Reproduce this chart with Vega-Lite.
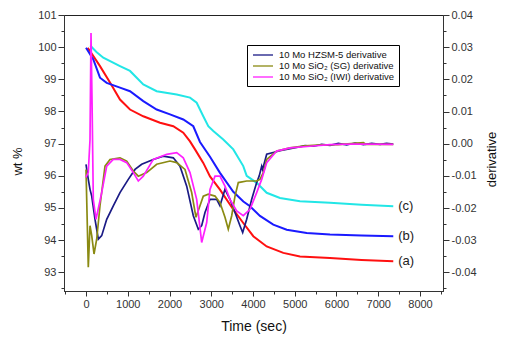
{
  "$schema": "https://vega.github.io/schema/vega-lite/v6.json",
  "width": 379,
  "height": 276,
  "autosize": {"type": "none"},
  "padding": {"left": 64, "top": 15, "right": 63, "bottom": 46},
  "background": "white",
  "config": {
    "view": {"stroke": "#222", "strokeWidth": 1},
    "axis": {
      "labelFont": "Liberation Sans",
      "titleFont": "Liberation Sans",
      "labelFontSize": 11,
      "labelColor": "#333",
      "domainColor": "#333",
      "tickColor": "#333",
      "grid": false,
      "titleFontWeight": "normal",
      "titleColor": "#111",
      "labelOverlap": false,
      "labelFlush": false
    }
  },
  "datasets": {
    "tga": [
      {"t": 40, "wt": 99.98, "s": "a"}, {"t": 96, "wt": 99.88, "s": "a"}, {"t": 335, "wt": 99.41, "s": "a"}, {"t": 575, "wt": 98.9, "s": "a"}, {"t": 814, "wt": 98.37, "s": "a"}, {"t": 1054, "wt": 98.06, "s": "a"}, {"t": 1372, "wt": 97.85, "s": "a"}, {"t": 1773, "wt": 97.65, "s": "a"}, {"t": 2091, "wt": 97.54, "s": "a"}, {"t": 2330, "wt": 97.34, "s": "a"}, {"t": 2491, "wt": 97.07, "s": "a"}, {"t": 2611, "wt": 96.82, "s": "a"}, {"t": 2809, "wt": 96.4, "s": "a"}, {"t": 2970, "wt": 95.98, "s": "a"}, {"t": 3209, "wt": 95.57, "s": "a"}, {"t": 3528, "wt": 94.95, "s": "a"}, {"t": 3767, "wt": 94.53, "s": "a"}, {"t": 4007, "wt": 94.12, "s": "a"}, {"t": 4328, "wt": 93.8, "s": "a"}, {"t": 4726, "wt": 93.6, "s": "a"}, {"t": 5125, "wt": 93.49, "s": "a"}, {"t": 5844, "wt": 93.44, "s": "a"}, {"t": 6600, "wt": 93.38, "s": "a"}, {"t": 7360, "wt": 93.34, "s": "a"},
      {"t": 0, "wt": 99.98, "s": "b"}, {"t": 175, "wt": 99.62, "s": "b"}, {"t": 335, "wt": 99.05, "s": "b"}, {"t": 496, "wt": 98.89, "s": "b"}, {"t": 814, "wt": 98.74, "s": "b"}, {"t": 1054, "wt": 98.63, "s": "b"}, {"t": 1372, "wt": 98.32, "s": "b"}, {"t": 1693, "wt": 98.06, "s": "b"}, {"t": 2012, "wt": 97.91, "s": "b"}, {"t": 2330, "wt": 97.75, "s": "b"}, {"t": 2570, "wt": 97.54, "s": "b"}, {"t": 2730, "wt": 97.05, "s": "b"}, {"t": 2970, "wt": 96.59, "s": "b"}, {"t": 3209, "wt": 96.09, "s": "b"}, {"t": 3528, "wt": 95.5, "s": "b"}, {"t": 3769, "wt": 95.2, "s": "b"}, {"t": 3928, "wt": 95.05, "s": "b"}, {"t": 4167, "wt": 94.75, "s": "b"}, {"t": 4486, "wt": 94.48, "s": "b"}, {"t": 4807, "wt": 94.32, "s": "b"}, {"t": 5286, "wt": 94.22, "s": "b"}, {"t": 5844, "wt": 94.17, "s": "b"}, {"t": 6600, "wt": 94.14, "s": "b"}, {"t": 7360, "wt": 94.12, "s": "b"},
      {"t": 100, "wt": 100.05, "s": "c"}, {"t": 250, "wt": 99.85, "s": "c"}, {"t": 414, "wt": 99.67, "s": "c"}, {"t": 814, "wt": 99.41, "s": "c"}, {"t": 1054, "wt": 99.26, "s": "c"}, {"t": 1372, "wt": 98.84, "s": "c"}, {"t": 1693, "wt": 98.63, "s": "c"}, {"t": 2172, "wt": 98.53, "s": "c"}, {"t": 2491, "wt": 98.43, "s": "c"}, {"t": 2651, "wt": 98.27, "s": "c"}, {"t": 2809, "wt": 97.85, "s": "c"}, {"t": 2929, "wt": 97.54, "s": "c"}, {"t": 3049, "wt": 97.39, "s": "c"}, {"t": 3288, "wt": 97.13, "s": "c"}, {"t": 3528, "wt": 96.82, "s": "c"}, {"t": 3767, "wt": 96.3, "s": "c"}, {"t": 3849, "wt": 96.0, "s": "c"}, {"t": 4088, "wt": 95.78, "s": "c"}, {"t": 4328, "wt": 95.47, "s": "c"}, {"t": 4646, "wt": 95.31, "s": "c"}, {"t": 5125, "wt": 95.21, "s": "c"}, {"t": 5844, "wt": 95.16, "s": "c"}, {"t": 6600, "wt": 95.1, "s": "c"}, {"t": 7360, "wt": 95.05, "s": "c"}
    ],
    "labels": [
      {"t": 7360, "wt": 93.34, "label": "(a)"},
      {"t": 7360, "wt": 94.12, "label": "(b)"},
      {"t": 7360, "wt": 95.05, "label": "(c)"}
    ],
    "deriv": [
      {"t": 0, "d": -0.0064, "s": "10 Mo HZSM-5 derivative"}, {"t": 55, "d": -0.0111, "s": "10 Mo HZSM-5 derivative"}, {"t": 96, "d": -0.0142, "s": "10 Mo HZSM-5 derivative"}, {"t": 137, "d": -0.0163, "s": "10 Mo HZSM-5 derivative"}, {"t": 216, "d": -0.0235, "s": "10 Mo HZSM-5 derivative"}, {"t": 295, "d": -0.0297, "s": "10 Mo HZSM-5 derivative"}, {"t": 376, "d": -0.0286, "s": "10 Mo HZSM-5 derivative"}, {"t": 496, "d": -0.0235, "s": "10 Mo HZSM-5 derivative"}, {"t": 654, "d": -0.0193, "s": "10 Mo HZSM-5 derivative"}, {"t": 814, "d": -0.0152, "s": "10 Mo HZSM-5 derivative"}, {"t": 1013, "d": -0.0111, "s": "10 Mo HZSM-5 derivative"}, {"t": 1174, "d": -0.008, "s": "10 Mo HZSM-5 derivative"}, {"t": 1334, "d": -0.0064, "s": "10 Mo HZSM-5 derivative"}, {"t": 1612, "d": -0.0049, "s": "10 Mo HZSM-5 derivative"}, {"t": 1851, "d": -0.0039, "s": "10 Mo HZSM-5 derivative"}, {"t": 2091, "d": -0.0044, "s": "10 Mo HZSM-5 derivative"}, {"t": 2251, "d": -0.007, "s": "10 Mo HZSM-5 derivative"}, {"t": 2412, "d": -0.0132, "s": "10 Mo HZSM-5 derivative"}, {"t": 2570, "d": -0.0224, "s": "10 Mo HZSM-5 derivative"}, {"t": 2690, "d": -0.0266, "s": "10 Mo HZSM-5 derivative"}, {"t": 2771, "d": -0.0255, "s": "10 Mo HZSM-5 derivative"}, {"t": 2850, "d": -0.0214, "s": "10 Mo HZSM-5 derivative"}, {"t": 2970, "d": -0.0173, "s": "10 Mo HZSM-5 derivative"}, {"t": 3130, "d": -0.0173, "s": "10 Mo HZSM-5 derivative"}, {"t": 3209, "d": -0.0193, "s": "10 Mo HZSM-5 derivative"}, {"t": 3329, "d": -0.0142, "s": "10 Mo HZSM-5 derivative"}, {"t": 3449, "d": -0.0173, "s": "10 Mo HZSM-5 derivative"}, {"t": 3569, "d": -0.0214, "s": "10 Mo HZSM-5 derivative"}, {"t": 3688, "d": -0.0255, "s": "10 Mo HZSM-5 derivative"}, {"t": 3753, "d": -0.0276, "s": "10 Mo HZSM-5 derivative"}, {"t": 3849, "d": -0.0235, "s": "10 Mo HZSM-5 derivative"}, {"t": 3969, "d": -0.0173, "s": "10 Mo HZSM-5 derivative"}, {"t": 4088, "d": -0.0121, "s": "10 Mo HZSM-5 derivative"}, {"t": 4150, "d": -0.01, "s": "10 Mo HZSM-5 derivative"}, {"t": 4208, "d": -0.007, "s": "10 Mo HZSM-5 derivative"}, {"t": 4230, "d": -0.008, "s": "10 Mo HZSM-5 derivative"}, {"t": 4328, "d": -0.0033, "s": "10 Mo HZSM-5 derivative"}, {"t": 4646, "d": -0.0022, "s": "10 Mo HZSM-5 derivative"}, {"t": 5045, "d": -0.0012, "s": "10 Mo HZSM-5 derivative"}, {"t": 5245, "d": -0.0006, "s": "10 Mo HZSM-5 derivative"}, {"t": 5445, "d": -0.0008, "s": "10 Mo HZSM-5 derivative"}, {"t": 5645, "d": -0.0002, "s": "10 Mo HZSM-5 derivative"}, {"t": 5844, "d": -0.0005, "s": "10 Mo HZSM-5 derivative"}, {"t": 6044, "d": 0.0001, "s": "10 Mo HZSM-5 derivative"}, {"t": 6244, "d": -0.0004, "s": "10 Mo HZSM-5 derivative"}, {"t": 6444, "d": 0.0002, "s": "10 Mo HZSM-5 derivative"}, {"t": 6644, "d": -0.0003, "s": "10 Mo HZSM-5 derivative"}, {"t": 6844, "d": 0.0001, "s": "10 Mo HZSM-5 derivative"}, {"t": 7044, "d": -0.0002, "s": "10 Mo HZSM-5 derivative"}, {"t": 7200, "d": 0.0001, "s": "10 Mo HZSM-5 derivative"}, {"t": 7360, "d": -0.0001, "s": "10 Mo HZSM-5 derivative"},
      {"t": 0, "d": -0.008, "s": "10 Mo SiO₂ (SG) derivative"}, {"t": 55, "d": -0.0384, "s": "10 Mo SiO₂ (SG) derivative"}, {"t": 96, "d": -0.0255, "s": "10 Mo SiO₂ (SG) derivative"}, {"t": 137, "d": -0.0286, "s": "10 Mo SiO₂ (SG) derivative"}, {"t": 192, "d": -0.0343, "s": "10 Mo SiO₂ (SG) derivative"}, {"t": 256, "d": -0.0297, "s": "10 Mo SiO₂ (SG) derivative"}, {"t": 335, "d": -0.0193, "s": "10 Mo SiO₂ (SG) derivative"}, {"t": 455, "d": -0.007, "s": "10 Mo SiO₂ (SG) derivative"}, {"t": 575, "d": -0.0049, "s": "10 Mo SiO₂ (SG) derivative"}, {"t": 814, "d": -0.0044, "s": "10 Mo SiO₂ (SG) derivative"}, {"t": 975, "d": -0.0054, "s": "10 Mo SiO₂ (SG) derivative"}, {"t": 1133, "d": -0.0085, "s": "10 Mo SiO₂ (SG) derivative"}, {"t": 1253, "d": -0.0101, "s": "10 Mo SiO₂ (SG) derivative"}, {"t": 1454, "d": -0.009, "s": "10 Mo SiO₂ (SG) derivative"}, {"t": 1693, "d": -0.0064, "s": "10 Mo SiO₂ (SG) derivative"}, {"t": 2012, "d": -0.0054, "s": "10 Mo SiO₂ (SG) derivative"}, {"t": 2172, "d": -0.0059, "s": "10 Mo SiO₂ (SG) derivative"}, {"t": 2371, "d": -0.008, "s": "10 Mo SiO₂ (SG) derivative"}, {"t": 2531, "d": -0.0152, "s": "10 Mo SiO₂ (SG) derivative"}, {"t": 2634, "d": -0.0229, "s": "10 Mo SiO₂ (SG) derivative"}, {"t": 2730, "d": -0.0193, "s": "10 Mo SiO₂ (SG) derivative"}, {"t": 2809, "d": -0.0163, "s": "10 Mo SiO₂ (SG) derivative"}, {"t": 2929, "d": -0.0157, "s": "10 Mo SiO₂ (SG) derivative"}, {"t": 3090, "d": -0.0163, "s": "10 Mo SiO₂ (SG) derivative"}, {"t": 3209, "d": -0.0183, "s": "10 Mo SiO₂ (SG) derivative"}, {"t": 3329, "d": -0.0229, "s": "10 Mo SiO₂ (SG) derivative"}, {"t": 3408, "d": -0.0266, "s": "10 Mo SiO₂ (SG) derivative"}, {"t": 3490, "d": -0.0224, "s": "10 Mo SiO₂ (SG) derivative"}, {"t": 3569, "d": -0.0163, "s": "10 Mo SiO₂ (SG) derivative"}, {"t": 3648, "d": -0.0121, "s": "10 Mo SiO₂ (SG) derivative"}, {"t": 3849, "d": -0.0116, "s": "10 Mo SiO₂ (SG) derivative"}, {"t": 4088, "d": -0.0116, "s": "10 Mo SiO₂ (SG) derivative"}, {"t": 4167, "d": -0.0111, "s": "10 Mo SiO₂ (SG) derivative"}, {"t": 4247, "d": -0.009, "s": "10 Mo SiO₂ (SG) derivative"}, {"t": 4328, "d": -0.0049, "s": "10 Mo SiO₂ (SG) derivative"}, {"t": 4567, "d": -0.0023, "s": "10 Mo SiO₂ (SG) derivative"}, {"t": 4886, "d": -0.0013, "s": "10 Mo SiO₂ (SG) derivative"}, {"t": 5245, "d": -0.0007, "s": "10 Mo SiO₂ (SG) derivative"}, {"t": 5644, "d": -0.0004, "s": "10 Mo SiO₂ (SG) derivative"}, {"t": 6044, "d": -0.0003, "s": "10 Mo SiO₂ (SG) derivative"}, {"t": 6644, "d": 0.0003, "s": "10 Mo SiO₂ (SG) derivative"}, {"t": 6700, "d": -0.0002, "s": "10 Mo SiO₂ (SG) derivative"}, {"t": 7360, "d": -0.0002, "s": "10 Mo SiO₂ (SG) derivative"},
      {"t": 0, "d": -0.0105, "s": "10 Mo SiO₂ (IWI) derivative"}, {"t": 55, "d": -0.0089, "s": "10 Mo SiO₂ (IWI) derivative"}, {"t": 96, "d": 0.0013, "s": "10 Mo SiO₂ (IWI) derivative"}, {"t": 120, "d": 0.0344, "s": "10 Mo SiO₂ (IWI) derivative"}, {"t": 144, "d": 0.0137, "s": "10 Mo SiO₂ (IWI) derivative"}, {"t": 175, "d": -0.0173, "s": "10 Mo SiO₂ (IWI) derivative"}, {"t": 240, "d": -0.0235, "s": "10 Mo SiO₂ (IWI) derivative"}, {"t": 376, "d": -0.0152, "s": "10 Mo SiO₂ (IWI) derivative"}, {"t": 496, "d": -0.007, "s": "10 Mo SiO₂ (IWI) derivative"}, {"t": 654, "d": -0.0049, "s": "10 Mo SiO₂ (IWI) derivative"}, {"t": 814, "d": -0.0049, "s": "10 Mo SiO₂ (IWI) derivative"}, {"t": 975, "d": -0.0059, "s": "10 Mo SiO₂ (IWI) derivative"}, {"t": 1133, "d": -0.009, "s": "10 Mo SiO₂ (IWI) derivative"}, {"t": 1253, "d": -0.0116, "s": "10 Mo SiO₂ (IWI) derivative"}, {"t": 1372, "d": -0.0101, "s": "10 Mo SiO₂ (IWI) derivative"}, {"t": 1612, "d": -0.0049, "s": "10 Mo SiO₂ (IWI) derivative"}, {"t": 1933, "d": -0.0033, "s": "10 Mo SiO₂ (IWI) derivative"}, {"t": 2172, "d": -0.0028, "s": "10 Mo SiO₂ (IWI) derivative"}, {"t": 2330, "d": -0.0044, "s": "10 Mo SiO₂ (IWI) derivative"}, {"t": 2491, "d": -0.009, "s": "10 Mo SiO₂ (IWI) derivative"}, {"t": 2651, "d": -0.0173, "s": "10 Mo SiO₂ (IWI) derivative"}, {"t": 2771, "d": -0.0307, "s": "10 Mo SiO₂ (IWI) derivative"}, {"t": 2891, "d": -0.0245, "s": "10 Mo SiO₂ (IWI) derivative"}, {"t": 2970, "d": -0.0142, "s": "10 Mo SiO₂ (IWI) derivative"}, {"t": 3090, "d": -0.0101, "s": "10 Mo SiO₂ (IWI) derivative"}, {"t": 3209, "d": -0.0101, "s": "10 Mo SiO₂ (IWI) derivative"}, {"t": 3329, "d": -0.0132, "s": "10 Mo SiO₂ (IWI) derivative"}, {"t": 3449, "d": -0.0173, "s": "10 Mo SiO₂ (IWI) derivative"}, {"t": 3609, "d": -0.0209, "s": "10 Mo SiO₂ (IWI) derivative"}, {"t": 3767, "d": -0.0224, "s": "10 Mo SiO₂ (IWI) derivative"}, {"t": 3928, "d": -0.0204, "s": "10 Mo SiO₂ (IWI) derivative"}, {"t": 4088, "d": -0.0152, "s": "10 Mo SiO₂ (IWI) derivative"}, {"t": 4208, "d": -0.0111, "s": "10 Mo SiO₂ (IWI) derivative"}, {"t": 4328, "d": -0.0059, "s": "10 Mo SiO₂ (IWI) derivative"}, {"t": 4567, "d": -0.0023, "s": "10 Mo SiO₂ (IWI) derivative"}, {"t": 4886, "d": -0.0013, "s": "10 Mo SiO₂ (IWI) derivative"}, {"t": 5365, "d": -0.0008, "s": "10 Mo SiO₂ (IWI) derivative"}, {"t": 5844, "d": -0.0003, "s": "10 Mo SiO₂ (IWI) derivative"}, {"t": 6400, "d": -0.0001, "s": "10 Mo SiO₂ (IWI) derivative"}, {"t": 7360, "d": -0.0002, "s": "10 Mo SiO₂ (IWI) derivative"}
    ]
  },
  "encoding": {
    "x": {
      "field": "t",
      "type": "quantitative",
      "scale": {"domain": [-527, 8551], "nice": false, "zero": false},
      "axis": {
        "title": "Time (sec)",
        "titleFontSize": 14,
        "titleY": 35,
        "titleBaseline": "middle",
        "values": [-500, 0, 500, 1000, 1500, 2000, 2500, 3000, 3500, 4000, 4500, 5000, 5500, 6000, 6500, 7000, 7500, 8000, 8500],
        "labelExpr": "datum.value % 1000 === 0 ? '' + datum.value : ''",
        "tickSize": {"condition": {"test": "datum.value % 1000 === 0", "value": 5}, "value": 3},
        "labelPadding": 2
      }
    }
  },
  "layer": [
    {
      "encoding": {
        "y": {
          "field": "wt",
          "type": "quantitative",
          "scale": {"domain": [92.415, 101], "nice": false, "zero": false},
          "axis": {
            "orient": "left",
            "title": "wt %",
            "titleFontSize": 13,
            "titleAngle": 270,
            "titleX": -47,
            "titleY": 146,
            "titleAlign": "center",
            "titleBaseline": "middle",
            "values": [92.5, 93, 93.5, 94, 94.5, 95, 95.5, 96, 96.5, 97, 97.5, 98, 98.5, 99, 99.5, 100, 100.5, 101],
            "labelExpr": "round(datum.value * 2) % 2 === 0 ? '' + round(datum.value) : ''",
            "tickSize": {"condition": {"test": "round(datum.value * 2) % 2 === 0", "value": 6}, "value": 3},
            "labelPadding": 2
          }
        }
      },
      "layer": [
        {
          "data": {"name": "tga"},
          "mark": {"type": "line", "strokeWidth": 2},
          "encoding": {
            "color": {
              "field": "s",
              "type": "nominal",
              "scale": {"domain": ["a", "b", "c"], "range": ["#ff1010", "#1a1aff", "#22e6e6"]},
              "legend": null
            }
          }
        },
        {
          "data": {"name": "labels"},
          "mark": {"type": "text", "align": "left", "baseline": "middle", "dx": 5, "fontSize": 13, "font": "Liberation Sans", "color": "#222"},
          "encoding": {"text": {"field": "label"}}
        }
      ]
    },
    {
      "data": {"name": "deriv"},
      "mark": {"type": "line", "strokeWidth": 1.7},
      "encoding": {
        "y": {
          "field": "d",
          "type": "quantitative",
          "scale": {"domain": [-0.0458, 0.04], "nice": false, "zero": false},
          "axis": {
            "orient": "right",
            "title": "derivative",
            "titleFontSize": 13,
            "titleAngle": 270,
            "titleX": 48,
            "titleY": 144,
            "titleAlign": "center",
            "titleBaseline": "middle",
            "values": [-0.045, -0.04, -0.035, -0.03, -0.025, -0.02, -0.015, -0.01, -0.005, 0, 0.005, 0.01, 0.015, 0.02, 0.025, 0.03, 0.035, 0.04],
            "labelExpr": "abs(round(datum.value*1000)) % 10 === 0 ? replace(format(datum.value, '.2f'), '\u2212', '-') : ''",
            "tickSize": {"condition": {"test": "abs(round(datum.value*1000)) % 10 === 0", "value": 6}, "value": 3},
            "labelPadding": 2
          }
        },
        "color": {
          "field": "s",
          "type": "nominal",
          "sort": null,
          "scale": {
            "domain": ["10 Mo HZSM-5 derivative", "10 Mo SiO₂ (SG) derivative", "10 Mo SiO₂ (IWI) derivative"],
            "range": ["#1a1a85", "#8a8a12", "#ff20ff"]
          },
          "legend": {
            "orient": "none",
            "legendX": 183,
            "legendY": 30,
            "title": null,
            "strokeColor": "#000",
            "fillColor": "#fff",
            "padding": 4,
            "symbolType": "M-2,0H2",
            "symbolSize": 100,
            "symbolStrokeWidth": 1.3,
            "symbolOffset": 6,
            "labelOffset": 10,
            "labelFontSize": 9.5,
            "labelFont": "Liberation Sans",
            "labelColor": "#111",
            "rowPadding": -1
          }
        }
      }
    }
  ],
  "resolve": {"scale": {"y": "independent", "color": "independent"}}
}
